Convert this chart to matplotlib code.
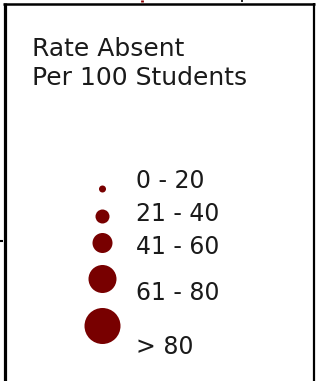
import matplotlib
matplotlib.use("Agg")
import matplotlib.pyplot as plt
from matplotlib.patches import Circle

title_lines = ["Rate Absent", "Per 100 Students"]
categories = ["0 - 20", "21 - 40", "41 - 60", "61 - 80", "> 80"]
marker_radius = [3.5, 7, 10, 14, 18]
marker_y = [189, 216.5, 243, 279, 326]
label_baseline = [188, 221, 254, 300, 354]

W, H = 316, 381
fig = plt.figure(figsize=(W / 100, H / 100), dpi=100)
ax = fig.add_axes([0, 0, 1, 1])
ax.set_xlim(0, W)
ax.set_ylim(H, 0)
ax.set_aspect("equal")
ax.axis("off")

font = "DejaVu Sans"
txt_color = "#1a1a1a"
# border
ax.plot([4.5, 4.5], [3.0, H + 5], color="black", lw=2.3, solid_capstyle="butt")
ax.plot([3, 315], [4, 4], color="black", lw=1.8, solid_capstyle="butt")
ax.plot([314, 314], [3, H + 5], color="black", lw=1.6, solid_capstyle="butt")
# small artifacts
ax.plot([0, 3], [240.5, 240.5], color="black", lw=1.5, solid_capstyle="butt")
ax.plot([242, 242], [0, 1.5], color="black", lw=1.2, solid_capstyle="butt")
ax.plot([141.5, 141.5], [0, 1.5], color="#8b0000", lw=2, solid_capstyle="butt")

ax.text(32, 56.5, title_lines[0], fontsize=18, family=font, color=txt_color, va="baseline")
ax.text(32, 85, title_lines[1], fontsize=18, family=font, color=txt_color, va="baseline")

for r, y, lab, by in zip(marker_radius, marker_y, categories, label_baseline):
    ax.add_patch(Circle((102.5, y), r, color="#780000", lw=0))
    ax.text(136, by, lab, fontsize=17, family=font, color=txt_color, va="baseline")

fig.savefig("out.png", dpi=100)
